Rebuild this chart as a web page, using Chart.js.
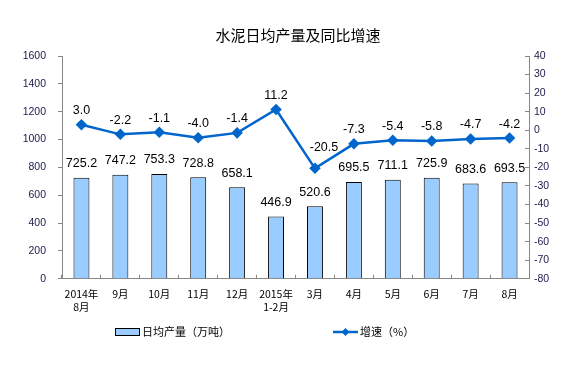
<!DOCTYPE html>
<html><head><meta charset="utf-8">
<script src="https://cdn.jsdelivr.net/npm/chart.js@4"></script>
<style>html,body{margin:0;padding:0;background:#fff;}#wrap{width:586px;height:368px;position:relative;}</style>
</head><body><div id="wrap"><canvas id="c"></canvas></div>
<script>
const categories = [["2014年","8月"],"9月","10月","11月","12月",["2015年","1-2月"],"3月","4月","5月","6月","7月","8月"];
const output = [725.2, 747.2, 753.3, 728.8, 658.1, 446.9, 520.6, 695.5, 711.1, 725.9, 683.6, 693.5];
const growth = [3.0, -2.2, -1.1, -4.0, -1.4, 11.2, -20.5, -7.3, -5.4, -5.8, -4.7, -4.2];
const title = "水泥日均产量及同比增速";
const seriesNames = ["日均产量（万吨）", "增速（%）"];

const CJK = '"Noto Sans CJK SC", "Liberation Sans", sans-serif';
const NUM = '"Liberation Sans", Arial, sans-serif';

const labelsPlugin = {
  id: 'valueLabels',
  afterDatasetsDraw(chart) {
    const ctx = chart.ctx;
    ctx.save();
    ctx.fillStyle = '#000';
    ctx.font = '12.5px ' + NUM;
    ctx.textAlign = 'center';
    ctx.textBaseline = 'middle';
    chart.getDatasetMeta(1).data.forEach((el, i) => {
      ctx.fillText(output[i].toFixed(1), el.x, el.y - 14);
    });
    chart.getDatasetMeta(0).data.forEach((el, i) => {
      const dx = growth[i] < -15 ? 9 : 0;
      const dy = growth[i] < -15 ? 21 : 14;
      ctx.fillText(growth[i].toFixed(1), el.x + dx, el.y - dy);
    });
    // title
    ctx.font = '15px ' + CJK;
    ctx.fillText(title, 298, 35);
    // legend
    const ly = 332;
    ctx.fillStyle = '#99ccff';
    ctx.fillRect(115, ly - 4, 24, 7);
    ctx.strokeStyle = '#000';
    ctx.lineWidth = 1;
    ctx.strokeRect(115.5, ly - 3.5, 24, 7);
    ctx.fillStyle = '#000';
    ctx.font = '11px ' + CJK;
    ctx.textAlign = 'left';
    ctx.fillText(seriesNames[0], 142, ly);
    ctx.strokeStyle = '#0066cc';
    ctx.lineWidth = 2.5;
    ctx.beginPath(); ctx.moveTo(333, ly); ctx.lineTo(358, ly); ctx.stroke();
    ctx.fillStyle = '#0066cc';
    ctx.beginPath(); ctx.moveTo(345.5, ly - 4); ctx.lineTo(349.5, ly); ctx.lineTo(345.5, ly + 4); ctx.lineTo(341.5, ly); ctx.closePath(); ctx.fill();
    ctx.fillStyle = '#000';
    ctx.fillText(seriesNames[1], 360, ly);
    ctx.restore();
  }
};

new Chart(document.getElementById('c'), {
  data: {
    labels: categories,
    datasets: [
      { type: 'line', label: seriesNames[1], data: growth, yAxisID: 'y1', borderColor: '#0066cc', backgroundColor: '#0066cc', borderWidth: 2.5, pointStyle: 'rectRot', pointRadius: 4, pointHoverRadius: 4, tension: 0, order: 0 },
      { type: 'bar', label: seriesNames[0], data: output, yAxisID: 'y', backgroundColor: '#99ccff', borderColor: '#000', borderWidth: 1, barPercentage: 0.41, categoryPercentage: 1, order: 1 }
    ]
  },
  options: {
    responsive: true, maintainAspectRatio: false, animation: false,
    layout: { padding: { left: 0, right: 0, top: 56, bottom: 42 } },
    plugins: { legend: { display: false }, tooltip: { enabled: false } },
    scales: {
      x: {
        grid: { display: true, drawOnChartArea: false, drawTicks: true, tickLength: -4, offset: true, color: '#888' },
        border: { color: '#888' },
        ticks: { color: '#000', font: { size: 10.5, family: CJK }, maxRotation: 0, autoSkip: false, padding: 13 }
      },
      y: {
        position: 'left', min: 0, max: 1600,
        afterFit(s) { s.width = 62; },
        grid: { drawOnChartArea: false, tickLength: 4, color: '#888' },
        border: { color: '#888' },
        ticks: { stepSize: 200, color: '#1a1a4a', font: { size: 10.5, family: NUM }, padding: 12, callback: v => String(v) }
      },
      y1: {
        position: 'right', min: -80, max: 40,
        afterFit(s) { s.width = 57; },
        grid: { drawOnChartArea: false, tickLength: -4, color: '#888' },
        border: { color: '#888' },
        ticks: { stepSize: 10, color: '#1a1a4a', font: { size: 10.5, family: NUM }, padding: 9, callback: v => String(v) }
      }
    }
  },
  plugins: [labelsPlugin]
});
</script></body></html>
